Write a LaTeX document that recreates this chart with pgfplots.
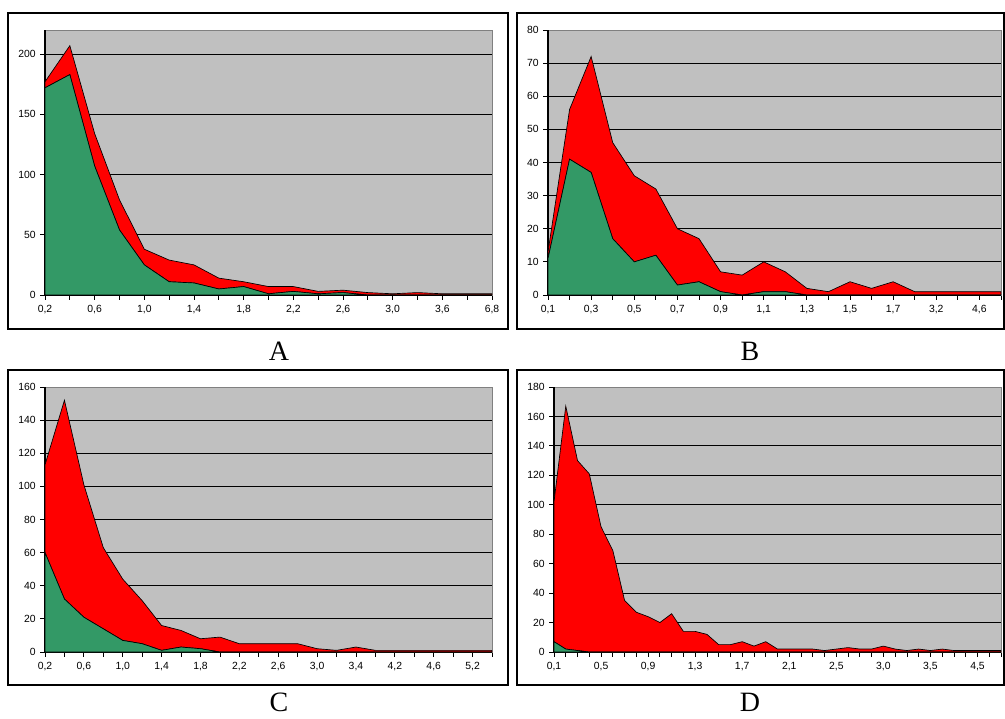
\documentclass[border=0pt]{standalone}
\usepackage{pgfplots}
\pgfplotsset{compat=1.18}
\usepackage{pgfplotstable}
\usepackage{fontspec}
\setmainfont{Liberation Serif}
\newfontfamily\arial{Liberation Sans}

\definecolor{areagreen}{HTML}{339966}
\definecolor{areared}{HTML}{FF0000}
\definecolor{plotbg}{HTML}{C0C0C0}

% x = category index, g = green series, r = red series (stacked on green)
\pgfplotstableread{
x g r
0 172 5
1 183 24
2 107 27
3 54 25
4 25 13
5 11 18
6 10 15
7 5 9
8 7 4
9 1 6
10 3 4
11 1 2
12 2 2
13 0 2
14 0 1
15 0 2
16 0 1
17 0 1
18 0 1
}\dataA

\pgfplotstableread{
x g r
0 11 2
1 41 15
2 37 35
3 17 29
4 10 26
5 12 20
6 3 17
7 4 13
8 1 6
9 0 6
10 1 9
11 1 6
12 0 2
13 0 1
14 0 4
15 0 2
16 0 4
17 0 1
18 0 1
19 0 1
20 0 1
21 0 1
}\dataB

\pgfplotstableread{
x g r
0 60 53
1 32 120
2 21 80
3 14 49
4 7 37
5 5 26
6 1 15
7 3 10
8 2 6
9 0 9
10 0 5
11 0 5
12 0 5
13 0 5
14 0 2
15 0 1
16 0 3
17 0 1
18 0 1
19 0 1
20 0 1
21 0 1
22 0 1
23 0 1
}\dataC

\pgfplotstableread{
x g r
0 7 95
1 2 165
2 1 129
3 0 121
4 0 85
5 0 69
6 0 35
7 0 27
8 0 24
9 0 20
10 0 26
11 0 14
12 0 14
13 0 12
14 0 5
15 0 5
16 0 7
17 0 4
18 0 7
19 0 2
20 0 2
21 0 2
22 0 2
23 0 1
24 0 2
25 0 3
26 0 2
27 0 2
28 0 4
29 0 2
30 0 1
31 0 2
32 0 1
33 0 2
34 0 1
35 0 1
36 0 1
37 0 1
38 0 1
}\dataD

\pgfplotsset{
  panel/.style={
    scale only axis,
    height=198.75pt,
    anchor=south west,
    xmin=0, ymin=0,
    stack plots=y,
    clip mode=individual,
    axis background/.style={fill=plotbg},
    axis line style={draw=gray, line width=0.7pt},
    ymajorgrids,
    grid style={draw=black, line width=0.7pt},
    tick align=outside,
    major tick length=3.5pt,
    tick style={draw=black, line width=0.6pt},
    xtick pos=left, ytick pos=left,
    tick label style={font=\arial\fontsize{7.8}{9}\selectfont},
    xticklabel style={yshift=-1pt},
    /pgf/number format/assume math mode=true,
  },
  garea/.style={fill=areagreen, draw=black, line width=0.5pt},
  rarea/.style={fill=areared, draw=black, line width=0.5pt},
}

\newcommand{\axlines}{%
  \draw[black, line width=1.5pt] (rel axis cs:0,0) -- (rel axis cs:0,1);
  \draw[black, line width=1.5pt] (rel axis cs:0,0) -- (rel axis cs:1,0);}

\begin{document}
\begin{tikzpicture}
\useasboundingbox (0,0) rectangle (753.75pt,538.5pt);

% panel frames
\draw[black, line width=0.9pt] (6pt,291.75pt) rectangle (381pt,528.75pt);
\draw[black, line width=0.9pt] (387.75pt,291.75pt) rectangle (753pt,528.75pt);
\draw[black, line width=0.9pt] (6pt,24.75pt) rectangle (381pt,261pt);
\draw[black, line width=0.9pt] (387.75pt,24.75pt) rectangle (753pt,261pt);

% A
\begin{axis}[panel, at={(33.75pt,317.25pt)}, width=335.25pt,
  xmax=18, ymax=220, ytick={0,50,...,200},
  xtick={0,...,18},
  xticklabels={{0,2},{},{0,6},{},{1,0},{},{1,4},{},{1,8},{},{2,2},{},{2,6},{},{3,0},{},{3,6},{},{6,8}}]
\addplot[garea] table[x=x, y=g] {\dataA} \closedcycle;
\addplot[rarea] table[x=x, y=r] {\dataA} \closedcycle;
\axlines
\end{axis}

% B
\begin{axis}[panel, at={(411pt,317.25pt)}, width=339.75pt,
  xmax=21, ymax=80, ytick={0,10,...,80},
  xtick={0,...,21},
  xticklabels={{0,1},{},{0,3},{},{0,5},{},{0,7},{},{0,9},{},{1,1},{},{1,3},{},{1,5},{},{1,7},{},{3,2},{},{4,6},{}}]
\addplot[garea] table[x=x, y=g] {\dataB} \closedcycle;
\addplot[rarea] table[x=x, y=r] {\dataB} \closedcycle;
\axlines
\end{axis}

% C
\begin{axis}[panel, at={(33.75pt,49.5pt)}, width=335.25pt,
  xmax=23, ymax=160, ytick={0,20,...,160},
  xtick={0,...,23},
  xticklabels={{0,2},{},{0,6},{},{1,0},{},{1,4},{},{1,8},{},{2,2},{},{2,6},{},{3,0},{},{3,4},{},{4,2},{},{4,6},{},{5,2},{}}]
\addplot[garea] table[x=x, y=g] {\dataC} \closedcycle;
\addplot[rarea] table[x=x, y=r] {\dataC} \closedcycle;
\axlines
\end{axis}

% D
\begin{axis}[panel, at={(415.5pt,49.5pt)}, width=335.25pt,
  xmax=38, ymax=180, ytick={0,20,...,180},
  xtick={0,...,38},
  xticklabels={{0,1},{},{},{},{0,5},{},{},{},{0,9},{},{},{},{1,3},{},{},{},{1,7},{},{},{},{2,1},{},{},{},{2,5},{},{},{},{3,0},{},{},{},{3,5},{},{},{},{4,5},{},{}}]
\addplot[garea] table[x=x, y=g] {\dataD} \closedcycle;
\addplot[rarea] table[x=x, y=r] {\dataD} \closedcycle;
\axlines
\end{axis}

% panel letters
\node[anchor=base, font=\fontsize{21}{24}\selectfont, inner sep=0pt] at (209.25pt,268.5pt) {A};
\node[anchor=base, font=\fontsize{21}{24}\selectfont, inner sep=0pt] at (562.5pt,268.5pt) {B};
\node[anchor=base, font=\fontsize{21}{24}\selectfont, inner sep=0pt] at (209.25pt,5pt) {C};
\node[anchor=base, font=\fontsize{21}{24}\selectfont, inner sep=0pt] at (562.5pt,5pt) {D};
\end{tikzpicture}
\end{document}
